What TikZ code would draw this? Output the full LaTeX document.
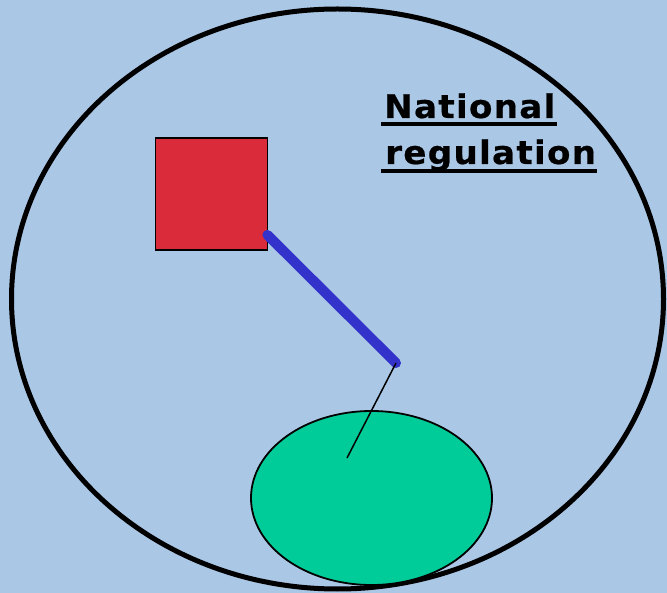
\documentclass[tikz,border=0pt]{standalone}
\usepackage{fontspec}
\usepackage{tikz}
\usetikzlibrary{positioning,calc,shapes.geometric}
\newfontfamily\labelfont[LetterSpace=4,FakeStretch=1.05,FakeBold=0.6]{DejaVu Sans}
\definecolor{skyback}{HTML}{AAC8E6}
\definecolor{regred}{HTML}{D92B3A}
\definecolor{linkblue}{HTML}{3333CC}
\definecolor{firmgreen}{HTML}{00CC99}
\tikzset{
  % figurer
  realm/.style={ellipse,draw=black,line width=5pt,inner sep=0pt,
                minimum width=652pt,minimum height=580pt},
  regbox/.style={rectangle,draw=black,fill=regred,line width=1.8pt,inner sep=0pt,
                 minimum size=112pt},
  firmblob/.style={ellipse,draw=black,fill=firmgreen,line width=1.8pt,inner sep=0pt,
                   minimum width=241pt,minimum height=174pt},
  tie/.style={draw=linkblue,line width=10pt,line cap=round},
  thread/.style={draw=black,line width=1.5pt},
  % text
  lbl/.style={font=\labelfont\bfseries\fontsize{32.5}{38}\selectfont,inner sep=0pt,
              anchor=base west},
  uline/.style={draw=black,line width=4pt},
}
\begin{document}
\begin{tikzpicture}[x=1pt,y=-1pt]
  \fill[skyback] (0,0) rectangle (667,593);
  \useasboundingbox (0,0) rectangle (667,593);
  \node[realm] (nation) at (337.5,299) {};
  \node[regbox] (reg) at (211.5,194) {};
  \node[firmblob] (comp) at (371.5,498) {};
  \coordinate (hub) at (396,363);
  \coordinate (tip) at ([xshift=-24.5pt,yshift=40pt]comp.center);
  \draw[tie] ([xshift=-1pt,yshift=16pt]reg.south east) -- (hub);
  \draw[thread] (hub) -- (tip);
  \node[lbl] (nat) at (384,118) {National};
  \node[lbl] (regl) at (385,164) {regulation};
  \draw[uline] ([xshift=-3pt,yshift=-6.5pt]nat.base west) -- ([xshift=1pt,yshift=-6.5pt]nat.base east);
  \draw[uline] ([xshift=-4pt,yshift=-7.5pt]regl.base west) -- ([xshift=1pt,yshift=-7.5pt]regl.base east);
\end{tikzpicture}
\end{document}
